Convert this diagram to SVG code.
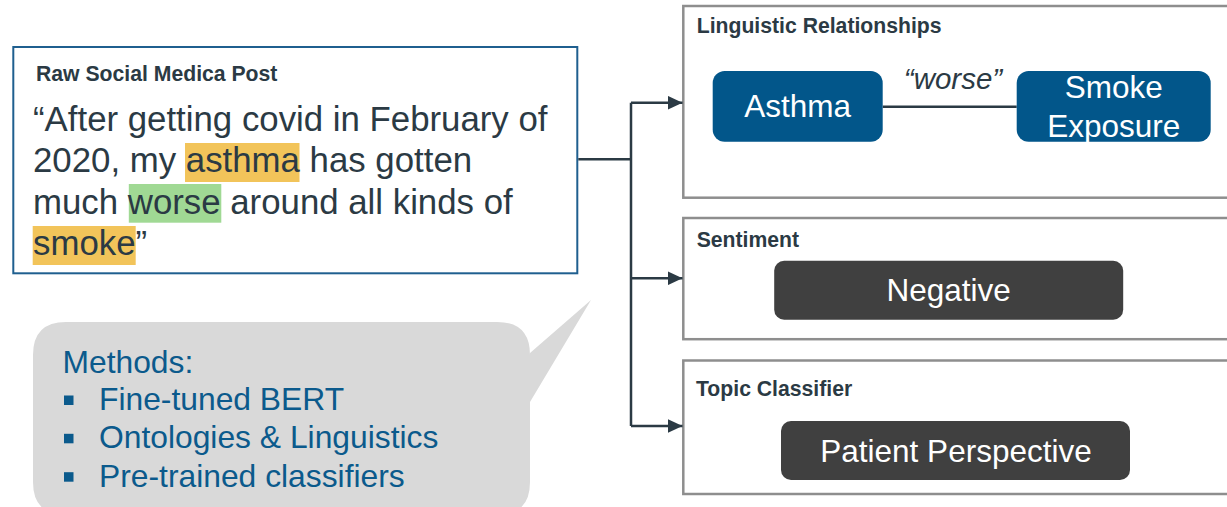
<svg xmlns="http://www.w3.org/2000/svg" width="1227" height="507" viewBox="0 0 1227 507">
  <defs>
    <style>
      .lbl { font-family: "Liberation Sans", Arial, sans-serif; font-weight: bold; font-size: 21.2px; fill: #2B3A44; }
      .post { font-family: "Liberation Sans", Arial, sans-serif; font-size: 34.8px; fill: #2B3A44; }
      .wt { font-family: "Liberation Sans", Arial, sans-serif; font-size: 31.5px; fill: #FFFFFF; text-anchor: middle; }
      .meth { font-family: "Liberation Sans", Arial, sans-serif; font-size: 31.8px; fill: #0B5A8C; }
      .panel { fill: #FFFFFF; stroke: #8E8E8E; stroke-width: 2.5; }
      .bluebox { fill: #02568A; }
      .graybox { fill: #404040; }
      .conn { fill: none; stroke: #2B3A44; stroke-width: 2.5; }
      .bullet { fill: #0B5A8C; }
    </style>
    <marker id="arrow" viewBox="0 0 15 14" refX="15" refY="7" markerWidth="15" markerHeight="14" markerUnits="userSpaceOnUse" orient="auto">
      <path d="M0,0 L15,7 L0,14 Z" fill="#2B3A44"/>
    </marker>
  </defs>

  <rect width="1227" height="507" fill="#FFFFFF"/>

  <g id="raw-post">
    <rect x="13.3" y="47" width="564" height="226.3" fill="#FFFFFF" stroke="#1F5F8F" stroke-width="2"/>
    <text class="lbl" x="36" y="81">Raw Social Medica Post</text>
    <rect x="185" y="143" width="114.5" height="39" fill="#F2C45A"/>
    <rect x="128.8" y="184" width="92.5" height="38.7" fill="#A0D994"/>
    <rect x="32.7" y="226" width="103" height="39" fill="#F2C45A"/>
    <text class="post" x="33" y="131">“After getting covid in February of</text>
    <text class="post" x="33" y="172.3">2020, my asthma has gotten</text>
    <text class="post" x="33" y="213.7">much worse around all kinds of</text>
    <text class="post" x="33" y="255">smoke”</text>
  </g>

  <g id="methods-bubble">
    <path d="M66,322 L497,322 Q530,322 530,355 L530,353 L591,300 L530,402 L530,482 Q530,515 497,515 L66,515 Q33,515 33,482 L33,355 Q33,322 66,322 Z" fill="#D9D9D9"/>
    <text class="meth" x="62.5" y="372.7">Methods:</text>
    <rect class="bullet" x="64" y="395.5" width="9.5" height="9.5"/>
    <text class="meth" x="99" y="410">Fine-tuned BERT</text>
    <rect class="bullet" x="64" y="433.8" width="9.5" height="9.5"/>
    <text class="meth" x="99" y="448.3">Ontologies &amp; Linguistics</text>
    <rect class="bullet" x="64" y="472.2" width="9.5" height="9.5"/>
    <text class="meth" x="99" y="486.7">Pre-trained classifiers</text>
  </g>

  <g id="linguistic-relationships">
    <rect class="panel" x="683.3" y="6" width="560" height="191.7"/>
    <text class="lbl" x="696.7" y="33.3">Linguistic Relationships</text>
    <line x1="882.7" y1="106.7" x2="1016.7" y2="106.7" stroke="#2B3A44" stroke-width="2.5"/>
    <text x="953" y="89.3" font-family="Liberation Sans, Arial, sans-serif" font-size="29.5" font-style="italic" fill="#2B3A44" text-anchor="middle">“worse”</text>
    <g id="asthma">
      <rect class="bluebox" x="712.7" y="71" width="170" height="70.7" rx="12"/>
      <text class="wt" x="797.7" y="117.3">Asthma</text>
    </g>
    <g id="smoke-exposure">
      <rect class="bluebox" x="1016.7" y="71" width="194" height="70.7" rx="12"/>
      <text class="wt" x="1113.7" y="98.3">Smoke</text>
      <text class="wt" x="1113.7" y="137.3">Exposure</text>
    </g>
  </g>

  <g id="sentiment">
    <rect class="panel" x="683.3" y="218" width="560" height="121.2"/>
    <text class="lbl" x="696.7" y="246.7">Sentiment</text>
    <rect class="graybox" x="774.2" y="260.8" width="349" height="59" rx="10"/>
    <text class="wt" x="948.7" y="301.4">Negative</text>
  </g>

  <g id="topic-classifier">
    <rect class="panel" x="683.3" y="360.5" width="560" height="133.5"/>
    <text class="lbl" x="696" y="396">Topic Classifier</text>
    <rect class="graybox" x="781" y="421" width="349" height="59" rx="10"/>
    <text class="wt" x="956" y="461.8">Patient Perspective</text>
  </g>

  <g id="connectors">
    <path class="conn" d="M578.3,159.3 L631,159.3"/>
    <path class="conn" d="M631,102.7 L631,426"/>
    <path class="conn" d="M631,102.7 L682.5,102.7" marker-end="url(#arrow)"/>
    <path class="conn" d="M631,278.3 L682.5,278.3" marker-end="url(#arrow)"/>
    <path class="conn" d="M631,426 L682.5,426" marker-end="url(#arrow)"/>
  </g>
</svg>
